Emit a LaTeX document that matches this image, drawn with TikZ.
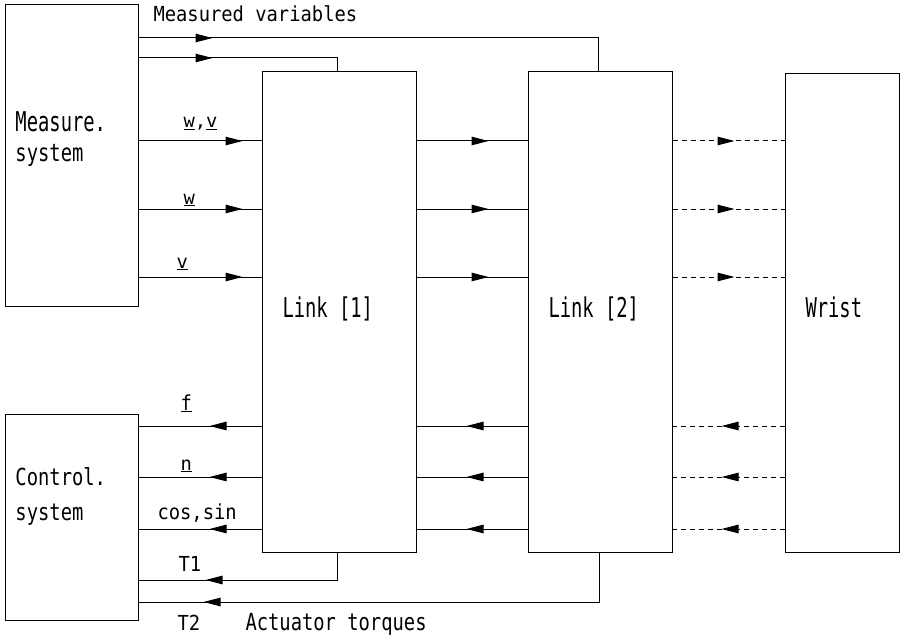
\documentclass[tikz,border=0pt]{standalone}
\usepackage{fontspec}
\usepackage{graphicx}
\setmonofont{DejaVu Sans Mono}
\usetikzlibrary{arrows.meta,decorations.markings}

% vertically stretched plotter-style lettering
\newcommand{\plot}[2]{\scalebox{1}[#1]{#2}}

\begin{document}
\begin{tikzpicture}[x=1pt,y=-1pt,line width=1pt,
  block/.style={draw,inner sep=0pt,minimum width=#1},
  lbl/.style={anchor=base west,inner sep=0pt,font=\ttfamily\fontsize{18.8}{22}\selectfont},
  flowmark/.style={postaction={decorate},decoration={markings,
      mark=at position #1 with {\arrow{Triangle[length=17pt,width=8.5pt]}}}},
  dashline/.style={dash pattern=on 5pt off 4pt}]
\useasboundingbox (0,0) rectangle (901,639);

% blocks
\node[block=133pt,minimum height=301pt] (meas)  at (71.5,155.5) {};
\node[block=133pt,minimum height=206pt] (ctrl)  at (71.5,517)   {};
\node[block=154pt,minimum height=480pt] (link1) at (339,312)    {};
\node[block=144pt,minimum height=480pt] (link2) at (600,312)    {};
\node[block=114pt,minimum height=478pt] (wrist) at (842,313)    {};

% block captions
\node[lbl] (tmeas1) at (15,132)  {\plot{1.45}{Measure.}};
\node[lbl] (tmeas2) at (15,162)  {\plot{1.3}{system}};
\node[lbl] (tctrl1) at (15,485)  {\plot{1.25}{Control.}};
\node[lbl] (tctrl2) at (15,520)  {\plot{1.25}{system}};
\node[lbl] (tlink1) at (282,317) {\plot{1.45}{Link [1]}};
\node[lbl] (tlink2) at (548,317) {\plot{1.45}{Link [2]}};
\node[lbl] (twrist) at (805,317) {\plot{1.45}{Wrist}};

% measured variables fed back from the links
\draw[flowmark=74pt] (meas.east |- 0,38) -| (link2.north -| 598,0);
\draw[flowmark=74pt] (meas.east |- 0,58) -| (link1.north -| 337,0);
\node[lbl] (tmv) at (153,22) {\plot{1.1}{Measured variables}};

% forward signals
\foreach \yy in {141,209,277}{
  \draw[flowmark=104pt] (meas.east |- 0,\yy) -- (link1.west |- 0,\yy);
  \draw[flowmark=72pt]  (link1.east |- 0,\yy) -- (link2.west |- 0,\yy);
  \draw[dashline,flowmark=62pt] (link2.east |- 0,\yy) -- (wrist.west |- 0,\yy);
}
\node[lbl] (twv) at (183,128) {\underline{w},\underline{v}};
\node[lbl] (tw)  at (183,204) {\underline{w}};
\node[lbl] (tv)  at (176,268) {\underline{v}};

% backward signals
\foreach \yy in {426,477,529}{
  \draw[flowmark=52pt] (link1.west |- 0,\yy) -- (ctrl.east |- 0,\yy);
  \draw[flowmark=61pt] (link2.west |- 0,\yy) -- (link1.east |- 0,\yy);
  \draw[dashline,flowmark=63pt] (wrist.west |- 0,\yy) -- (link2.east |- 0,\yy);
}
\node[lbl] (tf)  at (180,410) {\plot{1.1}{\underline{f}}};
\node[lbl] (tn)  at (180,470) {\underline{n}};
\node[lbl] (tcs) at (157,519) {\plot{1.1}{cos,sin}};

% actuator torques
\draw[flowmark=159pt] (link1.south -| 337,0) |- (ctrl.east |- 0,580);
\draw[flowmark=445pt] (link2.south -| 599,0) |- (ctrl.east |- 0,602);
\node[lbl] (tt1) at (178,571) {\plot{1.1}{T1}};
\node[lbl] (tt2) at (177,630) {\plot{1.1}{T2}};
\node[lbl] (tat) at (245,630) {\plot{1.25}{Actuator torques}};
\end{tikzpicture}
\end{document}
